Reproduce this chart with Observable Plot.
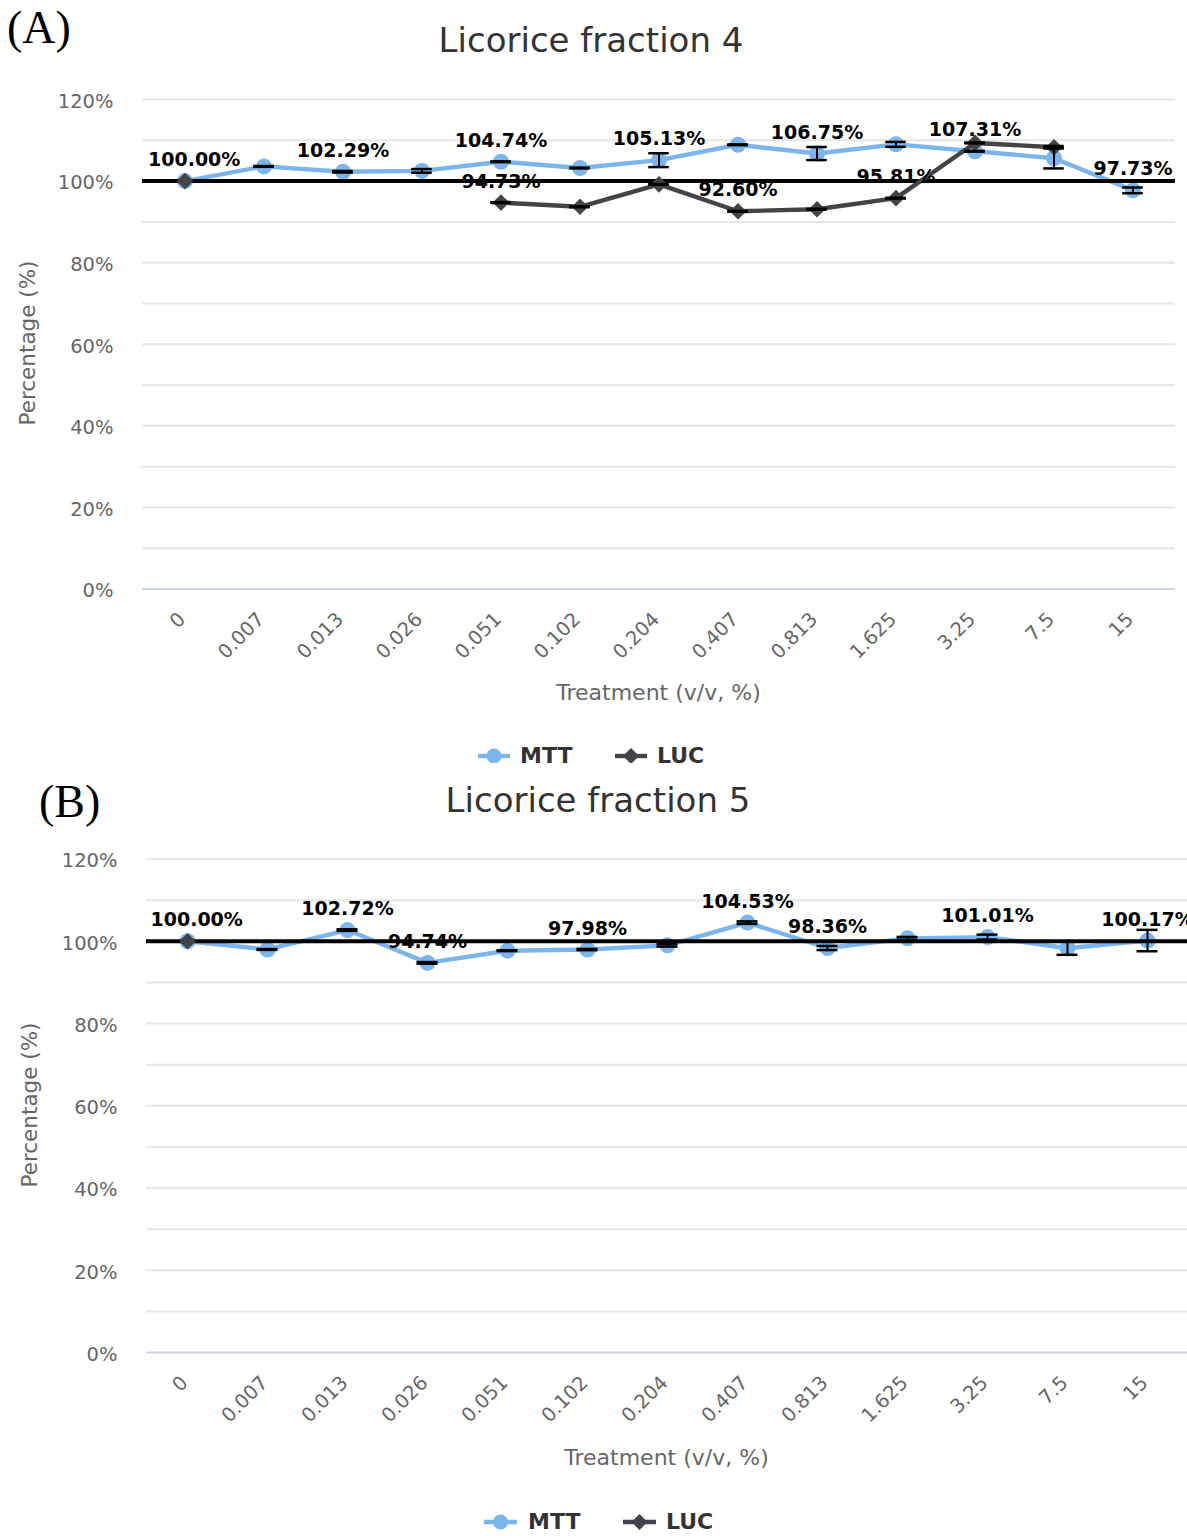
<!DOCTYPE html>
<html><head><meta charset="utf-8">
<script src="https://cdn.jsdelivr.net/npm/d3@7"></script>
<script src="https://cdn.jsdelivr.net/npm/@observablehq/plot@0.6"></script>
<style>
body{margin:0;background:#fff;}
#page{position:relative;width:1187px;height:1536px;overflow:hidden;background:#fff;font-family:"DejaVu Sans",sans-serif;}
.panel{position:absolute;left:0;width:1187px;overflow:hidden;background:#fff;}
.abs{position:absolute;white-space:nowrap;}
.panel svg{position:absolute;left:0;top:0;}
</style></head><body><div id="page"></div>
<script>
// ---- data ----
const doses = ["0","0.007","0.013","0.026","0.051","0.102","0.204","0.407","0.813","1.625","3.25","7.5","15"];
const yTicks = [0,20,40,60,80,100,120];
const gridValues = [10,20,30,40,50,60,70,80,90,110,120];
const seriesNames = ["MTT","LUC"];
const seriesColors = ["#7cb5ec","#434348"];

const titleA = "Licorice fraction 4";
const mttA    = [100, 103.6, 102.29, 102.5, 104.74, 103.2, 105.13, 108.9, 106.75, 109.0, 107.31, 105.6, 97.73];
const mttAErr = [0, 0.1, 0.2, 0.45, 0.1, 0.1, 1.7, 0.1, 1.6, 0.6, 0.1, 2.5, 0.7];
const lucA    = [100, null, null, null, 94.73, 93.7, 99.2, 92.60, 93.1, 95.81, 109.35, 108.3, null];
const lucAErr = [0, null, null, null, 0.1, 0.1, 0.1, 0.1, 0.1, 0.1, 0.1, 0.3, null];
const mttALabels = [0,2,4,6,8,10,12];
const lucALabels = [4,7,9];

const titleB = "Licorice fraction 5";
const mttB    = [100, 98.0, 102.72, 94.74, 97.7, 97.98, 99.0, 104.53, 98.36, 100.7, 101.01, 98.3, 100.17];
const mttBErr = [0, 0.1, 0.2, 0.2, 0.1, 0.15, 0.3, 0.3, 0.5, 0.35, 0.6, 1.6, 2.6];
const lucB    = [100, null, null, null, null, null, null, null, null, null, null, null, null];
const lucBErr = [0, null, null, null, null, null, null, null, null, null, null, null, null];
const mttBLabels = [0,2,3,5,7,8,10,12];
const lucBLabels = [];

const xTitle = "Treatment (v/v, %)";
const yTitle = "Percentage (%)";

// ---- drawing ----
const W = 1187;
const page = document.getElementById("page");

function el(parent, html, style) {
  const d = document.createElement("div");
  d.className = "abs";
  d.innerHTML = html;
  Object.assign(d.style, style);
  parent.appendChild(d);
  return d;
}

function panel(cfg) {
  const box = document.createElement("div");
  box.className = "panel";
  box.style.top = cfg.top + "px";
  box.style.height = cfg.height + "px";
  page.appendChild(box);

  const rows = (vals, errs) => doses.map((d, i) => ({dose: d, v: vals[i], e: errs[i], i}));
  const mtt = rows(cfg.mtt, cfg.mttErr);
  const luc = rows(cfg.luc, cfg.lucErr);
  const errRows = [...mtt, ...luc].filter(d => d.v != null && d.e != null && d.e > 0);
  const lab = [...mtt.filter(d => cfg.mttLabels.includes(d.i)), ...luc.filter(d => cfg.lucLabels.includes(d.i))];
  const bw = (W - cfg.marginLeft - cfg.marginRight) / doses.length;
  const capInset = (bw - 21) / 2;

  const plot = Plot.plot({
    width: W,
    height: cfg.height,
    marginLeft: cfg.marginLeft,
    marginRight: cfg.marginRight,
    marginTop: cfg.marginTop,
    marginBottom: cfg.height - cfg.zeroY,
    style: {fontFamily: '"DejaVu Sans", sans-serif', background: "transparent", overflow: "visible"},
    x: {type: "band", domain: doses, padding: 0},
    y: {domain: [0, 120]},
    marks: [
      Plot.ruleY(gridValues, {stroke: "#e6e6e6", strokeWidth: 2}),
      Plot.ruleY([0], {stroke: "#ccd6eb", strokeWidth: 2}),
      Plot.axisY({ticks: yTicks, tickFormat: d => d + "%", tickSize: 0, tickPadding: 29, fontSize: 19.5, fill: "#666", label: null, dy: 2}),
      Plot.axisX({tickRotate: -45, tickSize: 0, tickPadding: 27, fontSize: 19.5, fill: "#666", label: null, dx: -3}),
      Plot.line(mtt, {x: "dose", y: "v", stroke: seriesColors[0], strokeWidth: 4.4}),
      Plot.dot(mtt, {x: "dose", y: "v", r: 8, fill: seriesColors[0]}),
      Plot.ruleY([100], {stroke: "#000", strokeWidth: 4}),
      Plot.line(luc, {x: "dose", y: "v", stroke: seriesColors[1], strokeWidth: 4.4}),
      Plot.dot(luc.filter(d => d.v != null), {x: "dose", y: "v", r: 7.5, symbol: "diamond2", fill: seriesColors[1]}),
      Plot.ruleX(errRows, {x: "dose", y1: d => d.v - d.e, y2: d => d.v + d.e, stroke: "#000", strokeWidth: 2}),
      Plot.tickY(errRows, {x: "dose", y: d => d.v + d.e, stroke: "#000", strokeWidth: 2.5, insetLeft: capInset, insetRight: capInset}),
      Plot.tickY(errRows, {x: "dose", y: d => d.v - d.e, stroke: "#000", strokeWidth: 2.5, insetLeft: capInset, insetRight: capInset}),
      Plot.text(lab.filter(d => d.i !== 0), {x: "dose", y: "v", text: d => d.v.toFixed(2) + "%", dy: -21, fontSize: 19, fontWeight: "bold", fill: "#000"}),
      Plot.text(lab.filter(d => d.i === 0), {x: "dose", y: "v", text: d => d.v.toFixed(2) + "%", dy: -21, dx: -37, textAnchor: "start", fontSize: 19, fontWeight: "bold", fill: "#000"})
    ]
  });
  box.appendChild(plot);

  // panel tag
  el(box, cfg.tag, {left: cfg.tagLeft + "px", top: cfg.tagTop + "px", fontFamily: '"Liberation Serif", serif', fontSize: "46px", lineHeight: "46px", color: "#000"});
  // title
  el(box, cfg.title, {left: cfg.titleX + "px", top: (cfg.titleY - 20) + "px", transform: "translateX(-50%)", fontSize: "34px", lineHeight: "40px", color: "#333"});
  // y title
  el(box, yTitle, {left: cfg.yLabelX + "px", top: cfg.yLabelY + "px", transform: "translate(-50%,-50%) rotate(-90deg)", fontSize: "21.5px", lineHeight: "26px", color: "#666"});
  // x title
  el(box, xTitle, {left: cfg.xLabelX + "px", top: (cfg.xLabelY - 13) + "px", transform: "translateX(-50%)", fontSize: "22px", lineHeight: "26px", color: "#666"});
  // legend
  const L = cfg.legend;
  const y = L.y;
  const sw = (x0, x1, c, sym) => `<svg width="${x1 - x0 + 20}" height="24" style="display:block"><line x1="10" x2="${x1 - x0 + 10}" y1="12" y2="12" stroke="${c}" stroke-width="4.4"/>` +
    (sym === "circle" ? `<circle cx="${(x1 - x0) / 2 + 10}" cy="12" r="7.5" fill="${c}"/>`
                      : `<path d="M${(x1 - x0) / 2 + 10},4 L${(x1 - x0) / 2 + 18},12 L${(x1 - x0) / 2 + 10},20 L${(x1 - x0) / 2 + 2},12 Z" fill="${c}"/>`) + `</svg>`;
  el(box, sw(L.l1[0], L.l1[1], seriesColors[0], "circle"), {left: (L.l1[0] - 10) + "px", top: (y - 12) + "px"});
  el(box, seriesNames[0], {left: L.t1 + "px", top: (y - 15) + "px", fontSize: "22px", lineHeight: "30px", fontWeight: "bold", color: "#333"});
  el(box, sw(L.l2[0], L.l2[1], seriesColors[1], "diamond"), {left: (L.l2[0] - 10) + "px", top: (y - 12) + "px"});
  el(box, seriesNames[1], {left: L.t2 + "px", top: (y - 15) + "px", fontSize: "22px", lineHeight: "30px", fontWeight: "bold", color: "#333"});
}

panel({
  top: 0, height: 763, tag: "(A)", tagLeft: 7, tagTop: 5,
  title: titleA, titleX: 591, titleY: 40,
  marginLeft: 142, marginRight: 12, marginTop: 99, zeroY: 588.5,
  mtt: mttA, mttErr: mttAErr, luc: lucA, lucErr: lucAErr, mttLabels: mttALabels, lucLabels: lucALabels,
  yLabelX: 28, yLabelY: 343, xLabelX: 658.5, xLabelY: 693,
  legend: {y: 756, l1: [478, 510], t1: 520, l2: [615, 647], t2: 657}
});
panel({
  top: 763, height: 773, tag: "(B)", tagLeft: 39, tagTop: 16,
  title: titleB, titleX: 598, titleY: 37,
  marginLeft: 146, marginRight: 0, marginTop: 95.5, zeroY: 589,
  mtt: mttB, mttErr: mttBErr, luc: lucB, lucErr: lucBErr, mttLabels: mttBLabels, lucLabels: lucBLabels,
  yLabelX: 30, yLabelY: 342, xLabelX: 666.5, xLabelY: 695,
  legend: {y: 759, l1: [484, 517], t1: 528, l2: [623, 656], t2: 666}
});
</script></body></html>
